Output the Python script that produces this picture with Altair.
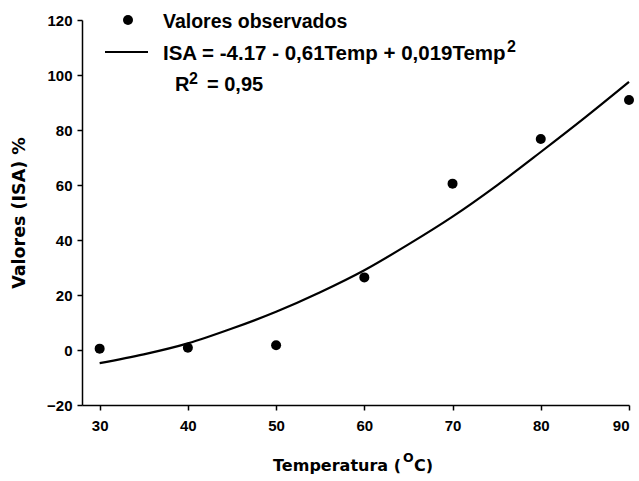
import altair as alt
import pandas as pd

# Observed values
temp = [30, 40, 50, 60, 70, 80, 90]
isa_obs = [0.5, 0.8, 1.7, 26.4, 60.5, 76.7, 90.9]

# Fitted curve
curve_temp = [30, 35, 40, 45, 50, 55, 60, 65, 70, 75, 80, 85, 90]
curve_isa = [-4.8, -1.6, 2.4, 7.8, 13.9, 21.0, 29.0, 38.4, 48.5, 59.8, 72.0, 84.5, 97.5]

x_ticks = [30, 40, 50, 60, 70, 80, 90]
y_ticks = [-20, 0, 20, 40, 60, 80, 100, 120]

FONT = "Liberation Sans"
WIDE = "DejaVu Sans"

obs_df = pd.DataFrame({"Temp": temp, "ISA": isa_obs})
curve_df = pd.DataFrame({"Temp": curve_temp, "ISA": curve_isa})
one = pd.DataFrame({"k": [0]})

xscale = alt.Scale(domain=[28, 90], nice=False, zero=False)
yscale = alt.Scale(domain=[-20, 120], nice=False, zero=False)

xaxis = alt.Axis(values=x_ticks, title=None, grid=False, labelFont=FONT, labelFontWeight="bold",
                 labelFontSize=15, labelColor="black", labelPadding=8, tickSize=5, tickColor="black",
                 tickWidth=1.5, domainColor="black", domainWidth=1.5)
yaxis = alt.Axis(values=y_ticks, title=None, grid=False, labelFont=FONT, labelFontWeight="bold",
                 labelFontSize=15, labelColor="black", labelPadding=5, tickSize=5, tickColor="black",
                 tickWidth=1.5, domainColor="black", domainWidth=1.5)

curve = alt.Chart(curve_df).mark_line(color="black", strokeWidth=2.2, interpolate="monotone").encode(
    x=alt.X("Temp:Q", scale=xscale, axis=xaxis),
    y=alt.Y("ISA:Q", scale=yscale, axis=yaxis),
)
points = alt.Chart(obs_df).mark_circle(color="black", size=100, opacity=1).encode(
    x=alt.X("Temp:Q", scale=xscale),
    y=alt.Y("ISA:Q", scale=yscale),
)

def txt(text, x, y, size, align="left", angle=0, font=FONT):
    return alt.Chart(one).mark_text(text=text, font=font, fontWeight="bold", fontSize=size,
                                    color="black", align=align, baseline="middle", angle=angle).encode(
        x=alt.value(x), y=alt.value(y))

# Legend
leg_dot = alt.Chart(one).mark_circle(color="black", size=100, opacity=1).encode(
    x=alt.value(46), y=alt.value(0))
leg_line = alt.Chart(one).mark_rule(color="black", strokeWidth=2).encode(
    x=alt.value(23), x2=alt.value(66), y=alt.value(32))

texts = [
    txt("Valores observados", 81, 2, 19.5),
    txt("ISA = -4.17 - 0,61Temp + 0,019Temp", 81, 34, 20.5),
    txt("2", 425, 27, 16),
    txt("R", 93, 65, 20),
    txt("2", 107, 59, 16),
    txt("= 0,95", 125, 65, 20),
    txt("Valores (ISA) %", -62, 193, 17.5, align="center", angle=270, font=WIDE),
    txt("Temperatura (", 319, 446, 16, align="right", font=WIDE),
    txt("O", 321, 438, 12.5, font=WIDE),
    txt("C)", 332, 446, 16, font=WIDE),
]

chart = alt.layer(curve, points, leg_dot, leg_line, *texts).properties(
    width=547, height=385,
    autosize=alt.AutoSizeParams(type="none"),
    padding={"left": 82, "top": 20, "right": 10, "bottom": 76},
    background="white",
).configure_view(stroke=None)

chart.save("out.html", embed_options={"renderer": "svg", "actions": False})
